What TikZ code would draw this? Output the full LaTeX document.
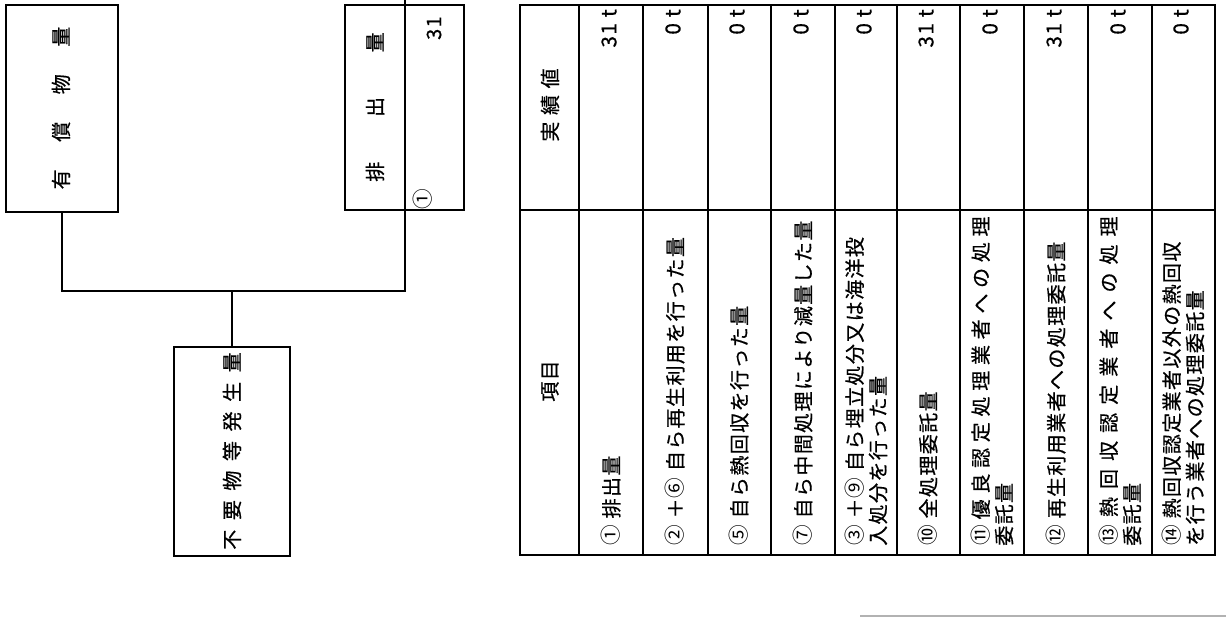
\documentclass[tikz,border=0pt]{standalone}
\usepackage{fontspec}
\newfontfamily\jp[LetterSpace=7,FakeBold=0.6]{Noto Sans CJK JP}
\newfontfamily\jpc{Noto Sans CJK JP}
\usetikzlibrary{fit}
\newcommand\cn[1]{{\jpc\fontsize{15.5pt}{15.5pt}\selectfont #1}}
\begin{document}
\begin{tikzpicture}[x=0.75pt,y=-0.75pt,
  box/.style={draw, line width=1.6pt, inner sep=0pt},
  wire/.style={line width=1.6pt},
  lbl/.style={rotate=90, inner sep=0pt, font=\jp\fontsize{15pt}{17pt}\selectfont},
  cell/.style={rotate=90, inner sep=0pt, anchor=west, align=left, font=\jp\fontsize{15pt}{17.5pt}\selectfont},
  val/.style={rotate=90, inner sep=0pt, anchor=east, font=\jp\fontsize{15.5pt}{17pt}\selectfont},
  gridline/.style={line width=1.1pt},
  frameline/.style={line width=1.8pt}]
\useasboundingbox (0,0) rectangle (1226,618);
\fill[white] (0,0) rectangle (1226,618);

% left diagram
\node[box, fit={(6,5)(118,212)}] (A) {};
\node[lbl] (At) at (61,108) {\makebox[122pt]{有\hfill 償\hfill 物\hfill 量}};

\node[box, fit={(345,5)(464,210)}] (B) {};
\node[lbl] (Bt) at (375,107) {\makebox[112pt]{排\hfill 出\hfill 量}};
\node[lbl, anchor=east] (Bv) at (434,16) {31};
\node[lbl] (Bn) at (423,199) {\cn{①}};

\node[box, fit={(174,347)(290,556)}] (C) {};
\node[lbl] (Ct) at (232,451) {\makebox[148pt]{不\hfill 要\hfill 物\hfill 等\hfill 発\hfill 生\hfill 量}};

\coordinate (Bdiv) at (405,0);
\coordinate (Jr) at (405,291);
\draw[wire] (A.south) |- (Jr) -- (Bdiv);
\draw[wire] (C.north) -- (C.north |- Jr);

% table
\draw[gridline] (520,210) -- (1215,210);
\foreach \x in {579,643,708,771,835,897,960,1024,1088,1152}
  \draw[gridline] (\x,5) -- (\x,555);
\draw[frameline] (520,5) rectangle (1215,555);

\node[lbl] (h1) at (550,381) {項目};
\node[lbl] (h2) at (550,105) {\makebox[55pt]{実\hfill 績\hfill 値}};

\node[cell] (r1) at (611,546) {\cn{①}\hspace{5pt}排出量};
\node[cell] (r2) at (675,546) {\cn{②}\hspace{5pt}＋\cn{⑥}\hspace{5pt}自ら再生利用を行った量};
\node[cell] (r3) at (739,546) {\cn{⑤}\hspace{5pt}自ら熱回収を行った量};
\node[cell] (r4) at (803,546) {\cn{⑦}\hspace{5pt}自ら中間処理により減量した量};
\node[cell] (r5) at (866,546) {\cn{③}\hspace{5pt}＋\cn{⑨}\hspace{5pt}自ら埋立処分又は海洋投\\入処分を行った量};
\node[cell] (r6) at (928,546) {\cn{⑩}\hspace{5pt}全処理委託量};
\node[cell] (r7) at (992,546) {\makebox[247pt][l]{\cn{⑪}\hfill 優\hfill 良\hfill 認\hfill 定\hfill 処\hfill 理\hfill 業\hfill 者\hfill へ\hfill の\hfill 処\hfill 理}\\委託量};
\node[cell] (r8) at (1056,546) {\cn{⑫}\hspace{5pt}再生利用業者への処理委託量};
\node[cell] (r9) at (1120,546) {\makebox[247pt][l]{\cn{⑬}\hfill 熱\hfill 回\hfill 収\hfill 認\hfill 定\hfill 業\hfill 者\hfill へ\hfill の\hfill 処\hfill 理}\\委託量};
\node[cell] (r10) at (1183,546) {\cn{⑭}\hspace{5pt}熱回収認定業者以外の熱回収\\を行う業者への処理委託量};

\node[val] (v1) at (609,9) {31 t};
\node[val] (v2) at (673,9) {0 t};
\node[val] (v3) at (737,9) {0 t};
\node[val] (v4) at (801,9) {0 t};
\node[val] (v5) at (864,9) {0 t};
\node[val] (v6) at (926,9) {31 t};
\node[val] (v7) at (990,9) {0 t};
\node[val] (v8) at (1054,9) {31 t};
\node[val] (v9) at (1118,9) {0 t};
\node[val] (v10) at (1181,9) {0 t};

\draw[gray!60, line width=0.8pt] (860,616) -- (1226,616);
\end{tikzpicture}
\end{document}
